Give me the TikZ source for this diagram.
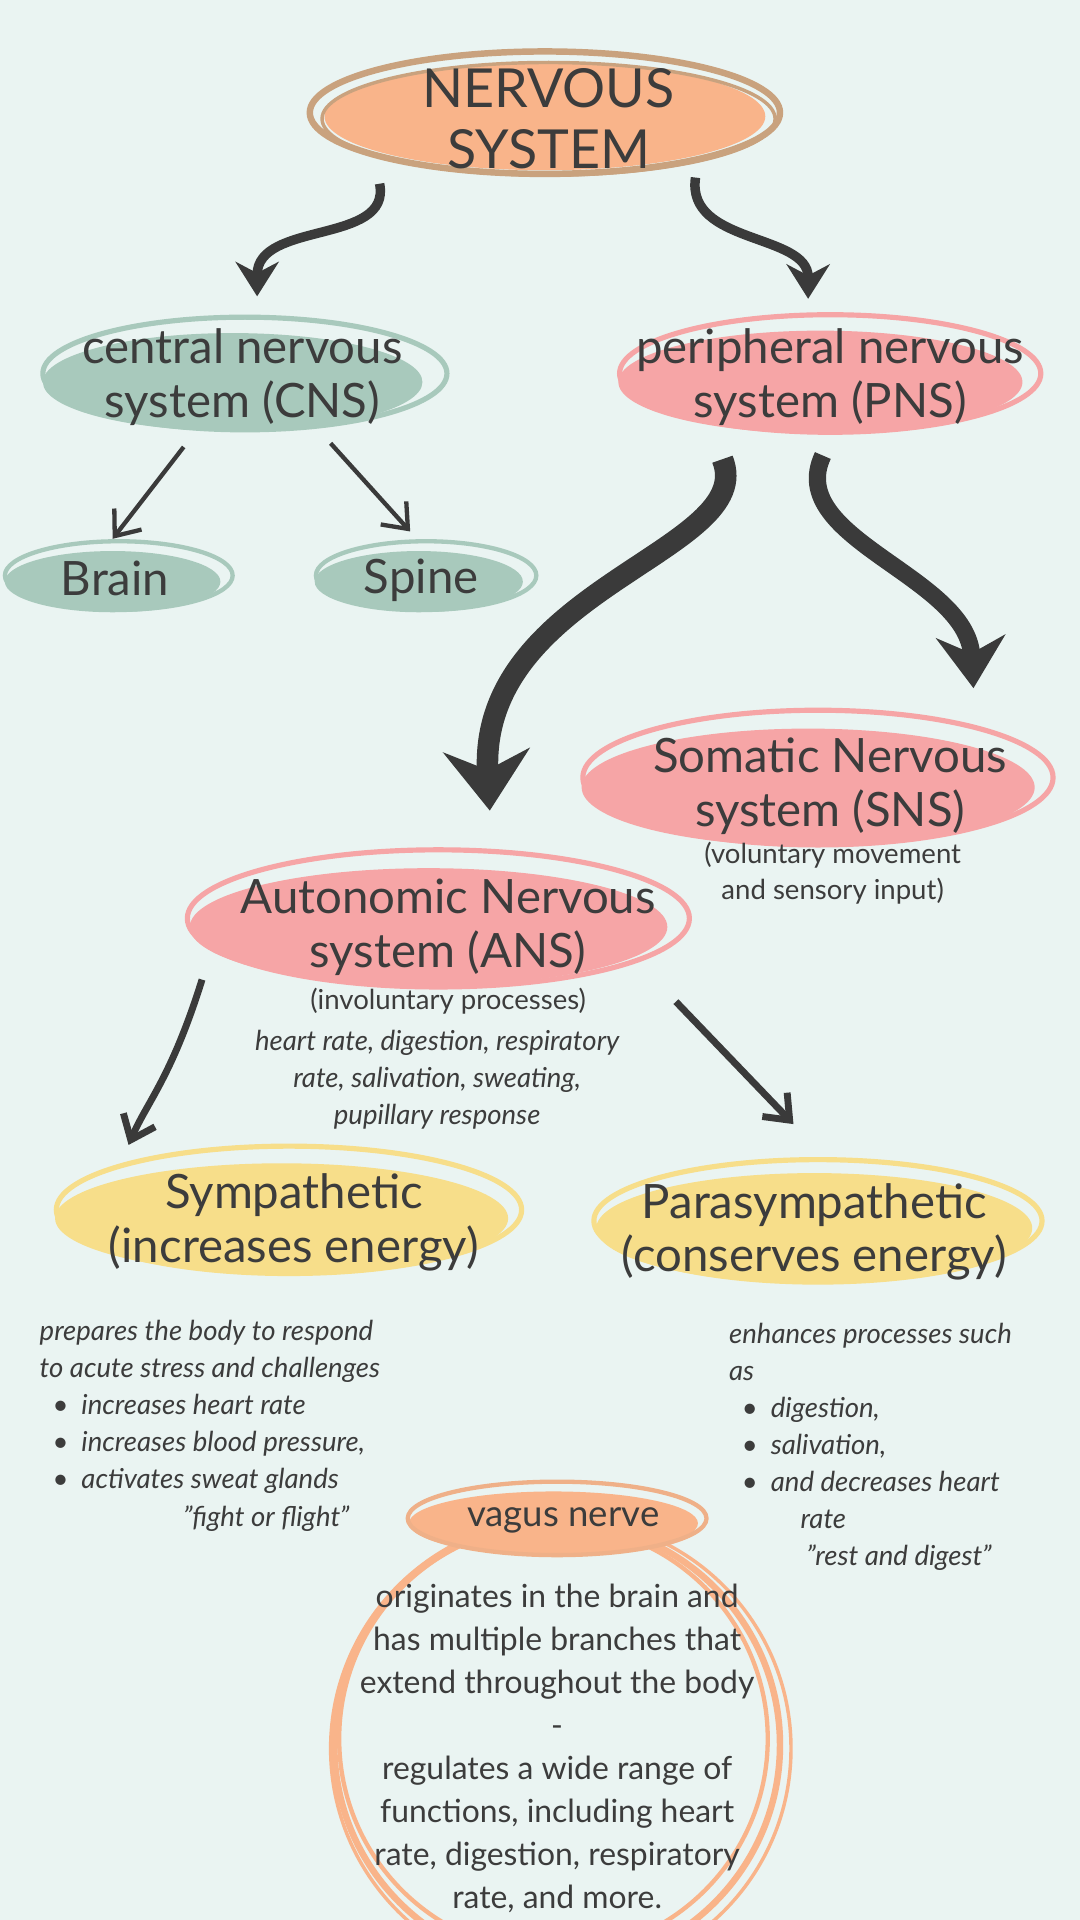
\documentclass[tikz,border=0pt]{standalone}
\usepackage{fontspec}
\setmainfont{Lato}
\usetikzlibrary{arrows.meta}
\definecolor{bg}{HTML}{EAF4F2}
\definecolor{orng}{HTML}{F9B48A}
\definecolor{tan}{HTML}{C9A27E}
\definecolor{sage}{HTML}{A8C9BC}
\definecolor{rose}{HTML}{F6A5A6}
\definecolor{lemon}{HTML}{F7DE8A}
\definecolor{ink}{HTML}{3A3A3A}
\definecolor{txt}{HTML}{3C3C3C}
\tikzset{
	big/.style={text=txt,align=center,font=\fontsize{11}{12.5}\selectfont},
	note/.style={text=txt,align=center,font=\fontsize{6.4}{8.2}\selectfont},
	bigarr/.style={draw=ink,line width=2.2pt,-{Stealth[length=8pt,width=10pt]}},
	thinarr/.style={draw=ink,line width=1pt,-{Straight Barb[length=5pt,width=8pt]}}
}
\begin{document}
\begin{tikzpicture}[x=0.01cm,y=-0.01cm]
		\fill[bg] (0,0) rectangle (882,1568);
		\useasboundingbox (0,0) rectangle (882,1568);
		% top
		\fill[orng] (445,95) ellipse (180 and 44);
		\draw[tan,line width=1.5pt] (445,92) ellipse (192 and 50);
		\draw[tan,line width=0.8pt] (448,97) ellipse (185 and 46);
		\node[big,font=\fontsize{12.5}{14}\selectfont] (NS) at (448,97) {NERVOUS\\SYSTEM};
		% cns
		\fill[sage] (190,312) ellipse (155 and 40);
		\draw[sage,line width=1.2pt] (200,305) ellipse (165 and 46);
		\node[big] (CNS) at (198,308) {central nervous\\system (CNS)};
		% pns
		\fill[rose] (670,312) ellipse (165 and 42);
		\draw[rose,line width=1.2pt] (678,305) ellipse (172 and 48);
		\node[big] (PNS) at (678,308) {peripheral nervous\\system (PNS)};
		% brain / spine
		\fill[sage] (92,475) ellipse (88 and 25);
		\draw[sage,line width=1pt] (97,470) ellipse (93 and 28);
		\node[big] (BR) at (94,472) {Brain};
		\fill[sage] (342,475) ellipse (85 and 25);
		\draw[sage,line width=1pt] (348,470) ellipse (90 and 28);
		\node[big] (SP) at (344,474) {Spine};
		% sns
		\fill[rose] (660,643) ellipse (185 and 48);
		\draw[rose,line width=1.2pt] (668,635) ellipse (192 and 55);
		\node[big] (SNS) at (678,642) {Somatic Nervous\\system (SNS)};
		\node[note] (SNSn) at (680,713) {(voluntary movement\\and sensory input)};
		% ans
		\fill[rose] (350,757) ellipse (195 and 48);
		\draw[rose,line width=1.2pt] (358,750) ellipse (205 and 56);
		\node[big] (ANS) at (366,757) {Autonomic Nervous\\system (ANS)};
		\node[note] (ANSn) at (366,818) {(involuntary processes)};
		\node[note,font=\fontsize{6.4}{8.6}\selectfont\itshape] (ANSl) at (357,882) {heart rate, digestion, respiratory\\rate, salivation, sweating,\\pupillary response};
		% sympathetic
		\fill[lemon] (230,995) ellipse (185 and 45);
		\draw[lemon,line width=1.2pt] (236,988) ellipse (190 and 52);
		\node[big] (SY) at (240,998) {Sympathetic\\(increases energy)};
		\fill[lemon] (665,1003) ellipse (178 and 45);
		\draw[lemon,line width=1.2pt] (668,997) ellipse (183 and 50);
		\node[big] (PSY) at (665,1006) {Parasympathetic\\(conserves energy)};
		% notes
		\node[note,align=left,anchor=north west,font=\fontsize{6.4}{8.6}\selectfont\itshape] (SYn) at (20,1066) {prepares the body to respond\\to acute stress and challenges\\
			\ \ \textbullet\ \ increases heart rate\\\ \ \textbullet\ \ increases blood pressure,\\\ \ \textbullet\ \ activates sweat glands\\\hspace{5.2em}"fight or flight"};
		\node[note,align=left,anchor=north west,font=\fontsize{6.4}{8.6}\selectfont\itshape] (PSYn) at (583,1068) {enhances processes such\\as\\
			\ \ \textbullet\ \ digestion,\\\ \ \textbullet\ \ salivation,\\\ \ \textbullet\ \ and decreases heart\\\hspace{2.6em}rate\\\hspace{2.8em}"rest and digest"};
		% vagus
		\draw[orng,line width=1.5pt] (455,1425) circle (182);
		\draw[orng,line width=1pt] (452,1420) circle (175);
		\draw[orng,line width=0.8pt] (458,1428) circle (188);
		\fill[orng] (452,1244) ellipse (118 and 26);
		\draw[orng!80!tan,line width=1pt] (455,1240) ellipse (122 and 30);
		\node[big,font=\fontsize{8.5}{10}\selectfont] (VN) at (460,1242) {vagus nerve};
		\node[note,font=\fontsize{7.4}{10}\selectfont] (VNn) at (455,1428) {originates in the brain and\\has multiple branches that\\extend throughout the body\\-\\regulates a wide range of\\functions, including heart\\rate, digestion, respiratory\\rate, and more.};
		% arrow ends
		\coordinate (a1) at (310,150); \coordinate (a2) at (210,242);
		\coordinate (b1) at (568,145); \coordinate (b2) at (660,244);
		\coordinate (c1) at (150,365); \coordinate (c2) at (92,440);
		\coordinate (d1) at (270,362); \coordinate (d2) at (335,434);
		\coordinate (e1) at (590,375); \coordinate (e2) at (400,662);
		\coordinate (f1) at (672,372); \coordinate (f2) at (795,562);
		\coordinate (g1) at (165,800); \coordinate (g2) at (105,935);
		\coordinate (h1) at (552,818); \coordinate (h2) at (648,918);
		\draw[bigarr] (a1) .. controls (320,200) and (210,180) .. (a2);
		\draw[bigarr] (b1) .. controls (560,200) and (660,190) .. (b2);
		\draw[thinarr] (c1) -- (c2);
		\draw[thinarr] (d1) -- (d2);
		\draw[bigarr,line width=5pt,-{Stealth[length=14pt,width=20pt]}] (e1) .. controls (620,450) and (390,480) .. (e2);
		\draw[bigarr,line width=4pt,-{Stealth[length=12pt,width=16pt]}] (f1) .. controls (640,440) and (790,470) .. (f2);
		\draw[thinarr,line width=1.6pt] (g1) .. controls (140,880) and (120,900) .. (g2);
		\draw[thinarr,line width=1.6pt] (h1) -- (h2);
\end{tikzpicture}
\end{document}
